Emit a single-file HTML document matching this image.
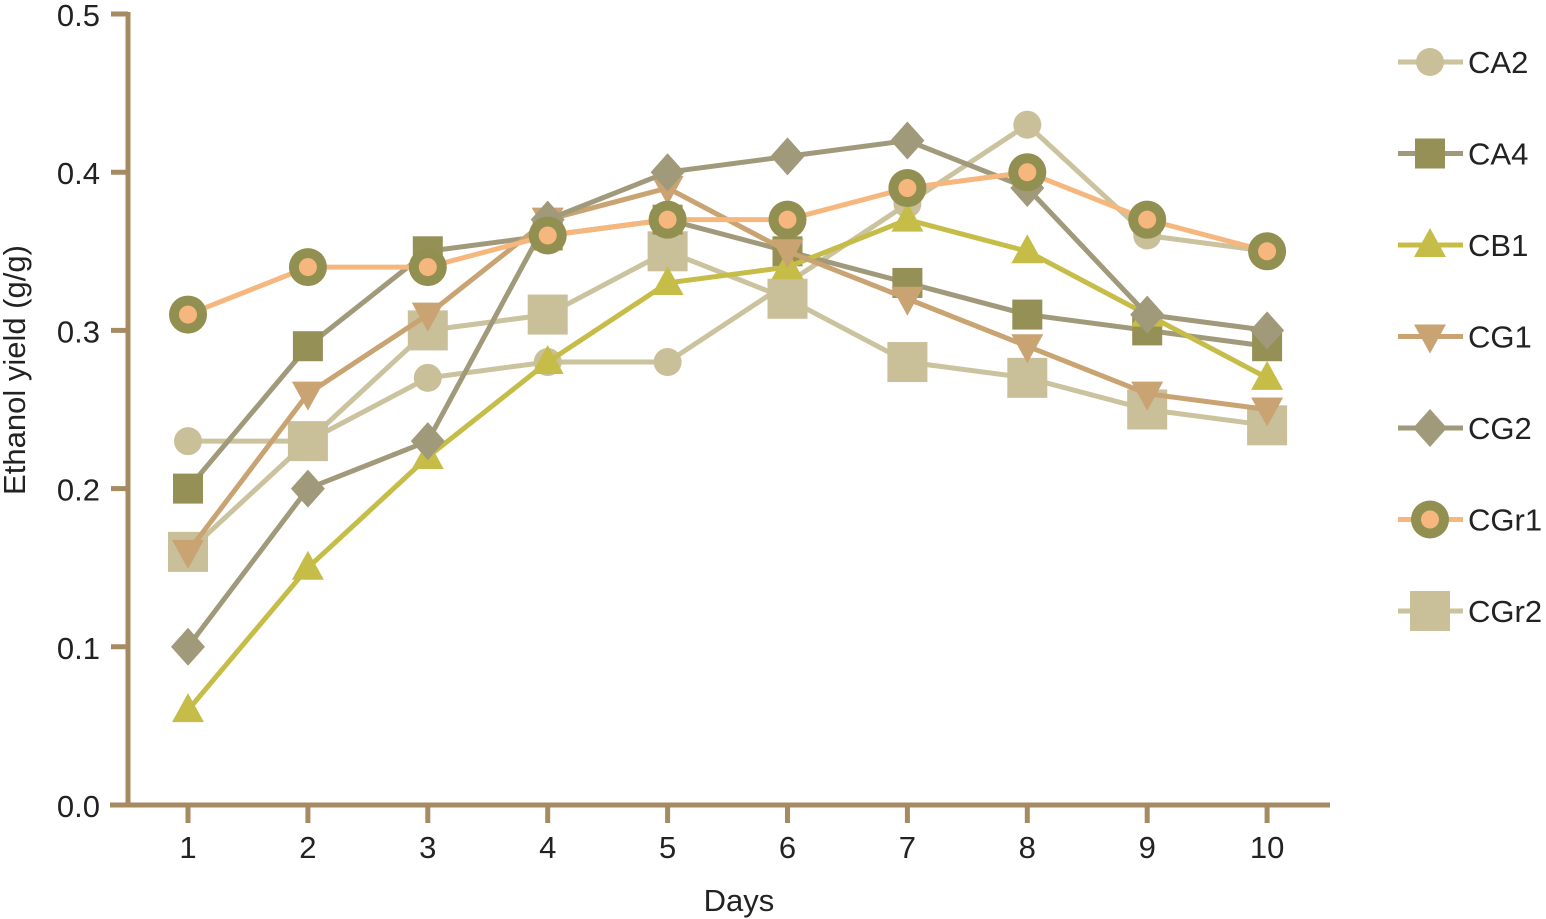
<!DOCTYPE html>
<html><head><meta charset="utf-8"><style>html,body{margin:0;padding:0;background:#fff}svg{display:block}text{font-family:"Liberation Sans",sans-serif;fill:#222}</style></head>
<body>
<svg id="s" width="1546" height="919" xmlns="http://www.w3.org/2000/svg"></svg>
<script>
const s=document.getElementById('s');let h='';
const X=d=>188+(d-1)*119.9, Y=v=>805-v*1582;
const ax='#a58a62';
h+=`<line x1="128" y1="12" x2="128" y2="806" stroke="${ax}" stroke-width="5"/>`;
h+=`<line x1="110" y1="805" x2="1330" y2="805" stroke="${ax}" stroke-width="5"/>`;
for(let i=0;i<=5;i++){const y=Y(i/10);h+=`<line x1="111" y1="${y}" x2="128" y2="${y}" stroke="${ax}" stroke-width="5"/><text x="100" y="${y+12}" font-size="31" text-anchor="end">${(i/10).toFixed(1)}</text>`;}
for(let d=1;d<=10;d++){h+=`<line x1="${X(d)}" y1="805" x2="${X(d)}" y2="823" stroke="${ax}" stroke-width="5"/><text x="${X(d)}" y="858" font-size="31" text-anchor="middle">${d}</text>`;}
h+=`<text x="739" y="911" font-size="31" text-anchor="middle">Days</text>`;
h+=`<text transform="translate(25,370) rotate(-90)" font-size="31" text-anchor="middle">Ethanol yield (g/g)</text>`;
function mk(t,x,y){
 switch(t){
 case 'c':return `<circle cx="${x}" cy="${y}" r="14" fill="#c9bf98"/>`;
 case 'sq':return `<rect x="${x-15}" y="${y-15}" width="30" height="30" fill="#959055"/>`;
 case 'tu':return `<polygon points="${x},${y-17} ${x+16},${y+12} ${x-16},${y+12}" fill="#c6bd48"/>`;
 case 'td':return `<polygon points="${x-16},${y-12} ${x+16},${y-12} ${x},${y+17}" fill="#c9a372"/>`;
 case 'di':return `<polygon points="${x},${y-19} ${x+17},${y} ${x},${y+19} ${x-17},${y}" fill="#a09a7a"/>`;
 case 'ri':return `<circle cx="${x}" cy="${y}" r="19" fill="#929050"/><circle cx="${x}" cy="${y}" r="9" fill="#f6b77f"/>`;
 case 'bs':return `<rect x="${x-20}" y="${y-20}" width="40" height="40" fill="#c9bf98"/>`;
 }}
const S=[
 ['CA2','c','#cbc29e',[.23,.23,.27,.28,.28,.33,.38,.43,.36,.35]],
 ['CGr2','bs','#cbc29e',[.16,.23,.30,.31,.35,.32,.28,.27,.25,.24]],
 ['CA4','sq','#a09a7a',[.20,.29,.35,.36,.37,.35,.33,.31,.30,.29]],
 ['CB1','tu','#c6bd48',[.06,.15,.22,.28,.33,.34,.37,.35,.31,.27]],
 ['CG1','td','#c9a372',[.16,.26,.31,.37,.39,.35,.32,.29,.26,.25]],
 ['CG2','di','#a09a7a',[.10,.20,.23,.37,.40,.41,.42,.39,.31,.30]],
 ['CGr1','ri','#f6b77f',[.31,.34,.34,.36,.37,.37,.39,.40,.37,.35]]];
for(const [n,t,c,d] of S){h+=`<polyline fill="none" stroke="${c}" stroke-width="5" points="${d.map((v,i)=>X(i+1)+','+Y(v)).join(' ')}"/>`;d.forEach((v,i)=>h+=mk(t,X(i+1),Y(v)));}
const L=[['CA2','c','#cbc29e'],['CA4','sq','#a09a7a'],['CB1','tu','#c6bd48'],['CG1','td','#c9a372'],['CG2','di','#a09a7a'],['CGr1','ri','#f6b77f'],['CGr2','bs','#cbc29e']];
L.forEach(([n,t,c],i)=>{const y=62+i*91.5;h+=`<line x1="1398" y1="${y}" x2="1463" y2="${y}" stroke="${c}" stroke-width="5"/>`+mk(t,1430,y)+`<text x="1468" y="${y+11}" font-size="31">${n}</text>`;});
s.innerHTML=h;
</script>
</body></html>
